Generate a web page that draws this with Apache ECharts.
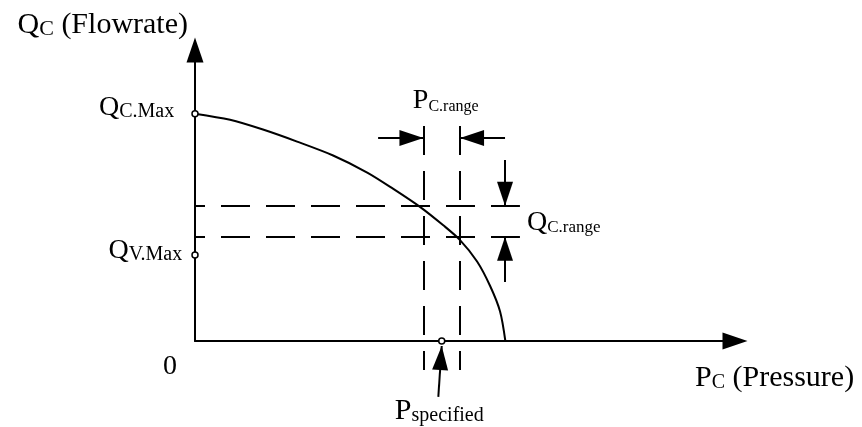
<!DOCTYPE html>
<html>
<head>
<meta charset="utf-8">
<script src="https://cdn.jsdelivr.net/npm/echarts@6/dist/echarts.min.js"></script>
<style>
  html, body { margin: 0; padding: 0; background: #fff; }
  #chart { width: 862px; height: 427px; }
</style>
</head>
<body>
<div id="chart"></div>
<script>
// Normalised units: pressure 100 = shut-off pressure, flowrate 100 = QC.Max
const pressure = [0, 11.3, 21.9, 32.9, 44.5, 55.5, 63.9, 72.6, 79.9, 85.4, 90.9, 95.1, 98.3, 100];
const flowrate = [100, 97.3, 93.0, 87.7, 81.6, 74.1, 66.9, 58.9, 51.0, 44.4, 35.0, 24.2, 13.0, 0];

const qcMax = 100;
const qvMax = 37.8;
const pSpecified = 79.5;
const pRange = [73.6, 85.4];
const qRange = [45.9, 59.5];

// extents of the dashed guide lines
const guideSpanP = [0, 104.7];
const guideSpanQ = [94.6, -12.8];

// dimension arrows
const pArrowLevel = 89.3;
const pArrowTails = [59.0, 99.9];
const qArrowAt = 99.9;
const qArrowTails = [79.6, 26.0];
const pSpecArrowTail = [78.4, -24.6];
const pSpecArrowTip = [79.5, -2.2];

const axisMaxP = 174;
const axisMaxQ = 128;

const SERIF = "'Liberation Serif', 'Times New Roman', serif";

// big letter + smaller subscript sharing one baseline
function richStyles(big, small) {
  return {
    b: { fontFamily: SERIF, fontSize: big, lineHeight: big, verticalAlign: 'bottom', color: '#000' },
    s: { fontFamily: SERIF, fontSize: small, lineHeight: 2 * (0.3375 * small + 0.1625 * big), verticalAlign: 'bottom', color: '#000' }
  };
}

// Arrowhead (16 wide, 24 long) whose tip sits at the symbol centre; the two
// invisible corner points make the bounding box a 50x50 square centred on the tip.
const ARROW_HEAD = 'path://M-25 0L-25 0M25 50L25 50M0 25L8 49L-8 49Z';
const ARROW_BOX = 50;

const chart = echarts.init(document.getElementById('chart'), null, { renderer: 'canvas' });

const axisArrow = {
  show: true,
  symbol: ['none', 'triangle'],
  symbolSize: [17, 25],
  lineStyle: { color: '#000', width: 2 }
};

const black = '#000';

const option = {
  backgroundColor: '#fff',
  animation: false,
  grid: { left: 195, right: 127, top: 50, bottom: 86, containLabel: false, outerBoundsMode: 'none' },
  xAxis: {
    type: 'value', min: 0, max: axisMaxP,
    axisLine: axisArrow,
    axisTick: { show: false }, axisLabel: { show: false }, splitLine: { show: false },
    name: '{b|P}{s|C}{b| (Pressure)}',
    nameLocation: 'end',
    nameGap: -40,
    nameTextStyle: { align: 'left', verticalAlign: 'top', padding: [22, 0, 0, 0], rich: richStyles(30, 20) }
  },
  yAxis: {
    type: 'value', min: 0, max: axisMaxQ,
    axisLine: axisArrow,
    axisTick: { show: false }, axisLabel: { show: false }, splitLine: { show: false },
    name: '{b|Q}{s|C}{b| (Flowrate)}',
    nameLocation: 'end',
    nameGap: 10,
    nameTextStyle: { align: 'right', verticalAlign: 'bottom', padding: [0, 7, 0, 0], rich: richStyles(30, 22) }
  },
  series: [
    {
      name: 'characteristic',
      type: 'line',
      data: pressure.map((p, i) => [p, flowrate[i]]),
      showSymbol: false,
      smooth: 0.3,
      clip: false,
      lineStyle: { color: black, width: 2 },
      z: 3
    },
    {
      name: 'guides',
      type: 'lines',
      coordinateSystem: 'cartesian2d',
      clip: false,
      symbol: 'none',
      lineStyle: { color: black, width: 2, type: [29, 16], opacity: 1 },
      data: [
        { coords: [[guideSpanP[0], qRange[1]], [guideSpanP[1], qRange[1]]], lineStyle: { dashOffset: 19 } },
        { coords: [[guideSpanP[0], qRange[0]], [guideSpanP[1], qRange[0]]], lineStyle: { dashOffset: 19 } },
        { coords: [[pRange[0], guideSpanQ[0]], [pRange[0], guideSpanQ[1]]], lineStyle: { dashOffset: 0 } },
        { coords: [[pRange[1], guideSpanQ[0]], [pRange[1], guideSpanQ[1]]], lineStyle: { dashOffset: 0 } }
      ],
      z: 2
    },
    {
      name: 'arrows',
      type: 'lines',
      coordinateSystem: 'cartesian2d',
      clip: false,
      symbol: ['none', ARROW_HEAD],
      symbolSize: ARROW_BOX,
      lineStyle: { color: black, width: 2, type: 'solid', opacity: 1 },
      data: [
        { coords: [[pArrowTails[0], pArrowLevel], [pRange[0], pArrowLevel]] },
        { coords: [[pArrowTails[1], pArrowLevel], [pRange[1], pArrowLevel]] },
        { coords: [[qArrowAt, qArrowTails[0]], [qArrowAt, qRange[1]]] },
        { coords: [[qArrowAt, qArrowTails[1]], [qArrowAt, qRange[0]]] },
        { coords: [pSpecArrowTail, pSpecArrowTip] }
      ],
      z: 4
    },
    {
      name: 'points',
      type: 'scatter',
      clip: false,
      symbol: 'circle',
      symbolSize: 6,
      itemStyle: { color: '#fff', borderColor: black, borderWidth: 1.5, opacity: 1 },
      label: { show: true, color: black, rich: richStyles(28, 20) },
      data: [
        { value: [0, qcMax], label: { position: 'left', distance: 17, offset: [0, -6], formatter: '{b|Q}{s|C.Max}' } },
        { value: [0, qvMax], label: { position: 'left', distance: 9, offset: [0, -4.5], formatter: '{b|Q}{s|V.Max}' } },
        { value: [pSpecified, 0], label: { show: false } }
      ],
      z: 5
    },
    {
      name: 'annotations',
      type: 'scatter',
      clip: false,
      symbolSize: 0,
      silent: true,
      itemStyle: { opacity: 1 },
      label: { show: true, color: black, rich: richStyles(28, 18) },
      data: [
        { value: [0, 0], label: { position: 'inside', offset: [-25, 26], formatter: '{b|0}' } },
        { value: [(pRange[0] + pRange[1]) / 2, pArrowLevel], label: { position: 'inside', offset: [4, -37], formatter: '{b|P}{s|C.range}', rich: richStyles(28, 16) } },
        { value: [qArrowAt, (qRange[0] + qRange[1]) / 2], label: { position: 'right', distance: 22, offset: [0, 1], formatter: '{b|Q}{s|C.range}', rich: richStyles(28, 17) } },
        { value: pSpecArrowTail, label: { position: 'inside', offset: [1, 14], formatter: '{b|P}{s|specified}', rich: richStyles(30, 20) } }
      ],
      z: 6
    }
  ]
};

chart.setOption(option);
</script>
</body>
</html>
